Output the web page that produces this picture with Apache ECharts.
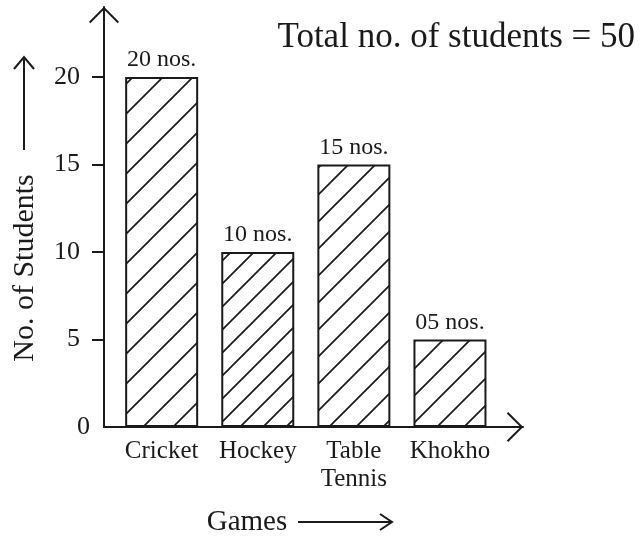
<!DOCTYPE html>
<html>
<head>
<meta charset="utf-8">
<title>Games played by students</title>
<script src="https://cdn.jsdelivr.net/npm/echarts@6/dist/echarts.min.js"></script>
<style>
  html, body { margin: 0; padding: 0; background: #fff; }
  #chart { width: 644px; height: 537px; }
</style>
</head>
<body>
<div id="chart"></div>
<script>
// data
const games = ['Cricket', 'Hockey', 'Table Tennis', 'Khokho'];
const students = [20, 10, 15, 5];
const yTicks = [0, 5, 10, 15, 20];
const totalStudents = 50;

// gap between the hatch lines of each bar (style only)
const hatchGap = [30, 23, 27, 27];

const ink = '#1a1a1a';
const serif = '"Liberation Serif", "DejaVu Serif", serif';
// open arrow head, pointing up
const chevron = 'path://M0,15 L15,0 L30,15 L28.6,16.4 L15,2.8 L1.4,16.4 Z';

// tile with "/" lines for the bars
function hatch(gap) {
  const c = document.createElement('canvas');
  c.width = gap;
  c.height = gap;
  const ctx = c.getContext('2d');
  ctx.fillStyle = '#fff';
  ctx.fillRect(0, 0, gap, gap);
  ctx.strokeStyle = ink;
  ctx.lineWidth = 1.7;
  ctx.beginPath();
  for (let m = 0; m <= 2; m++) {
    ctx.moveTo(m * gap + 2, -2);
    ctx.lineTo(m * gap - gap - 2, gap + 2);
  }
  ctx.stroke();
  return c;
}

const chart = echarts.init(document.getElementById('chart'));

const option = {
  animation: false,
  backgroundColor: '#fff',
  title: {
    text: 'Total no. of students = ' + totalStudents,
    right: 4,
    top: 15,
    textStyle: { fontFamily: serif, fontSize: 35, fontWeight: 'normal', color: ink }
  },
  grid: { left: 104, right: 121, top: 7, bottom: 110, outerBoundsMode: 'none' },
  xAxis: {
    type: 'value',
    min: -0.6,
    max: 3.76,
    splitLine: { show: false },
    axisTick: { show: false },
    axisLine: {
      show: true,
      lineStyle: { color: ink, width: 2 },
      symbol: ['none', chevron],
      symbolSize: [30, 16.4],
      symbolOffset: [0, -8]
    },
    axisLabel: {
      customValues: [0, 1, 2, 3],
      formatter: v => games[v].replace(' ', '\n'),
      fontFamily: serif,
      fontSize: 25,
      lineHeight: 28,
      color: ink,
      margin: 10
    }
  },
  yAxis: {
    type: 'value',
    min: 0,
    max: 24,
    splitLine: { show: false },
    axisLine: {
      show: true,
      onZero: false,
      lineStyle: { color: ink, width: 2 },
      symbol: ['none', chevron],
      symbolSize: [30, 16.4],
      symbolOffset: [0, -8]
    },
    axisTick: {
      show: true,
      customValues: [5, 10, 15, 20],
      length: 12,
      lineStyle: { color: ink, width: 2 }
    },
    axisLabel: {
      customValues: yTicks,
      margin: 14,
      formatter: v => (v === 0 ? '{z|0}' : '{t|' + v + '}'),
      rich: {
        t: { fontFamily: serif, fontSize: 26, color: ink, padding: [0, 10, 0, 0] },
        z: { fontFamily: serif, fontSize: 26, color: ink }
      }
    }
  },
  series: [
    {
      type: 'bar',
      barWidth: 73,
      data: students.map((v, i) => ({
        value: [i, v],
        itemStyle: { color: { image: hatch(hatchGap[i]), repeat: 'repeat' } }
      })),
      itemStyle: { borderColor: ink, borderWidth: 2 },
      label: {
        show: true,
        position: 'top',
        distance: 5,
        fontFamily: serif,
        fontSize: 24,
        color: ink,
        formatter: p => String(p.value[1]).padStart(2, '0') + ' nos.'
      }
    }
  ],
  graphic: [
    {
      type: 'text',
      x: 25,
      y: 268,
      rotation: Math.PI / 2,
      style: {
        text: 'No. of Students',
        fontFamily: serif,
        fontSize: 30,
        fill: ink,
        align: 'center',
        verticalAlign: 'middle'
      }
    },
    { type: 'line', shape: { x1: 24, y1: 150, x2: 24, y2: 58 }, style: { stroke: ink, lineWidth: 2 } },
    { type: 'polyline', shape: { points: [[14, 69], [24, 57], [34, 69]] }, style: { stroke: ink, lineWidth: 2, fill: null } },
    {
      type: 'text',
      x: 247,
      y: 522,
      style: {
        text: 'Games',
        fontFamily: serif,
        fontSize: 29,
        fill: ink,
        align: 'center',
        verticalAlign: 'middle'
      }
    },
    { type: 'line', shape: { x1: 298, y1: 522, x2: 392, y2: 522 }, style: { stroke: ink, lineWidth: 2 } },
    { type: 'polyline', shape: { points: [[380, 514], [392, 522], [380, 530]] }, style: { stroke: ink, lineWidth: 2, fill: null } }
  ]
};

chart.setOption(option);
</script>
</body>
</html>
